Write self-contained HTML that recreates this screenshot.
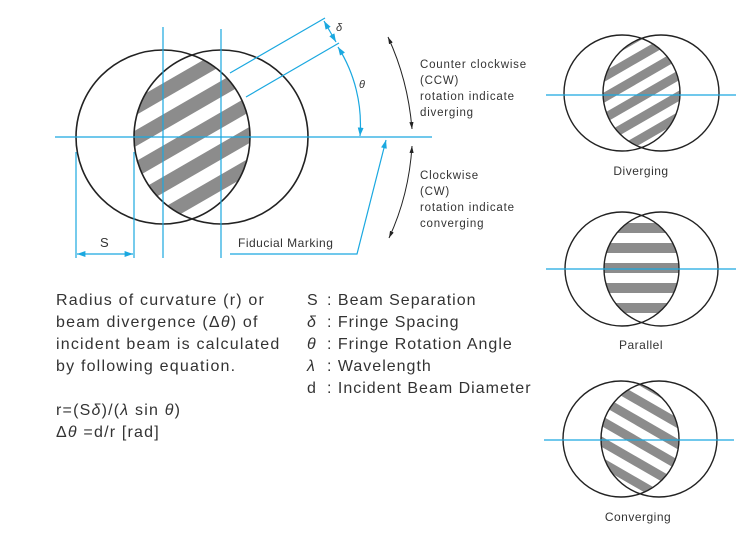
<!DOCTYPE html>
<html><head><meta charset="utf-8"><style>
html,body{margin:0;padding:0;background:#fff}
svg{display:block}
text{font-family:"Liberation Sans",sans-serif;fill:#333}
</style></head><body>
<svg width="749" height="545" viewBox="0 0 749 545" xmlns="http://www.w3.org/2000/svg">
<defs>
<marker id="ab" viewBox="0 0 10 10" refX="10" refY="5" markerWidth="7" markerHeight="7" orient="auto-start-reverse"><path d="M0,1.5 L10,5 L0,8.5 z" fill="#1aa8e0"/></marker>
<marker id="ak" viewBox="0 0 10 10" refX="10" refY="5" markerWidth="7" markerHeight="7" orient="auto-start-reverse"><path d="M0,2 L10,5 L0,8 z" fill="#222"/></marker>
<clipPath id="cA"><circle cx="163" cy="137" r="87"/></clipPath>
<clipPath id="cB"><circle cx="221" cy="137" r="87"/></clipPath>
<clipPath id="d1A"><circle cx="622" cy="93" r="58"/></clipPath>
<clipPath id="d1B"><circle cx="661" cy="93" r="58"/></clipPath>
<clipPath id="d2A"><circle cx="622" cy="269" r="57"/></clipPath>
<clipPath id="d2B"><circle cx="661" cy="269" r="57"/></clipPath>
<clipPath id="d3A"><circle cx="621" cy="439" r="58"/></clipPath>
<clipPath id="d3B"><circle cx="659" cy="439" r="58"/></clipPath>
</defs>

<g clip-path="url(#cA)"><g clip-path="url(#cB)">
<g transform="rotate(-30 192 137)" fill="#8c8c8c">
<rect x="60" y="-5" width="270" height="14"/>
<rect x="60" y="22" width="270" height="14"/>
<rect x="60" y="49" width="270" height="14"/>
<rect x="60" y="76" width="270" height="14"/>
<rect x="60" y="103" width="270" height="14"/>
<rect x="60" y="130" width="270" height="14"/>
<rect x="60" y="157" width="270" height="14"/>
<rect x="60" y="184" width="270" height="14"/>
<rect x="60" y="211" width="270" height="14"/>
<rect x="60" y="238" width="270" height="14"/>
<rect x="60" y="265" width="270" height="14"/>
</g></g></g>
<circle cx="163" cy="137" r="87" fill="none" stroke="#222" stroke-width="1.6"/>
<circle cx="221" cy="137" r="87" fill="none" stroke="#222" stroke-width="1.6"/>

<g stroke="#1aa8e0" stroke-width="1.2" fill="none">
<line x1="55" y1="137" x2="432" y2="137"/>
<line x1="163" y1="27" x2="163" y2="258"/>
<line x1="221" y1="29" x2="221" y2="258"/>
<line x1="76" y1="152" x2="76" y2="258"/>
<line x1="134" y1="152" x2="134" y2="258"/>
<line x1="77" y1="254" x2="133" y2="254" marker-start="url(#ab)" marker-end="url(#ab)"/>
<line x1="230" y1="73" x2="325" y2="18"/>
<line x1="246" y1="97" x2="339" y2="43"/>
<line x1="324" y1="21" x2="336" y2="42" marker-start="url(#ab)" marker-end="url(#ab)"/>
<path d="M338,47 A145,145 0 0 1 360,136" marker-start="url(#ab)" marker-end="url(#ab)"/>
<polyline points="230,254 357,254 386,140" marker-end="url(#ab)"/>
</g>
<g stroke="#222" stroke-width="1" fill="none">
<path d="M388,37 Q408,80 412,129" marker-start="url(#ak)" marker-end="url(#ak)"/>
<path d="M412,146 Q409,195 389,238" marker-start="url(#ak)" marker-end="url(#ak)"/>
</g>
<text x="336" y="31" font-size="11" font-style="italic">δ</text>
<text x="359" y="88" font-size="11" font-style="italic">θ</text>
<text x="100" y="247" font-size="13">S</text>
<text x="238" y="247" font-size="12" letter-spacing="0.5">Fiducial Marking</text>
<g font-size="11.5" letter-spacing="0.8">
<text x="420" y="68">Counter clockwise</text>
<text x="420" y="84">(CCW)</text>
<text x="420" y="100">rotation indicate</text>
<text x="420" y="116">diverging</text>
<text x="420" y="179">Clockwise</text>
<text x="420" y="195">(CW)</text>
<text x="420" y="211">rotation indicate</text>
<text x="420" y="227">converging</text>
</g>

<g font-size="16" letter-spacing="1.2">
<text x="56" y="305">Radius of curvature (r) or</text>
<text x="56" y="327">beam divergence (Δ<tspan font-style="italic">θ</tspan>) of</text>
<text x="56" y="349">incident beam is calculated</text>
<text x="56" y="371">by following equation.</text>
<text x="56" y="415">r=(S<tspan font-style="italic">δ</tspan>)/(<tspan font-style="italic">λ</tspan>  sin <tspan font-style="italic">θ</tspan>)</text>
<text x="56" y="437">Δ<tspan font-style="italic">θ</tspan> =d/r [rad]</text>
</g>
<g font-size="16" letter-spacing="1">
<text x="307" y="305">S<tspan x="327">: Beam Separation</tspan></text>
<text x="307" y="327"><tspan font-style="italic">δ</tspan><tspan x="327">: Fringe Spacing</tspan></text>
<text x="307" y="349"><tspan font-style="italic">θ</tspan><tspan x="327">: Fringe Rotation Angle</tspan></text>
<text x="307" y="371"><tspan font-style="italic">λ</tspan><tspan x="327">: Wavelength</tspan></text>
<text x="307" y="393">d<tspan x="327">: Incident Beam Diameter</tspan></text>
</g>

<g clip-path="url(#d1A)"><g clip-path="url(#d1B)">
<g transform="rotate(-30 641 93)" fill="#8c8c8c">
<rect x="560" y="2" width="170" height="9"/><rect x="560" y="20" width="170" height="9"/>
<rect x="560" y="38" width="170" height="9"/><rect x="560" y="56" width="170" height="9"/>
<rect x="560" y="74" width="170" height="9"/><rect x="560" y="92" width="170" height="9"/>
<rect x="560" y="110" width="170" height="9"/><rect x="560" y="128" width="170" height="9"/>
<rect x="560" y="146" width="170" height="9"/><rect x="560" y="164" width="170" height="9"/>
</g></g></g>
<circle cx="622" cy="93" r="58" fill="none" stroke="#222" stroke-width="1.4"/>
<circle cx="661" cy="93" r="58" fill="none" stroke="#222" stroke-width="1.4"/>
<line x1="546" y1="95" x2="736" y2="95" stroke="#1aa8e0" stroke-width="1.2"/>
<text x="641" y="175" font-size="12" text-anchor="middle" letter-spacing="0.5">Diverging</text>

<g clip-path="url(#d2A)"><g clip-path="url(#d2B)" fill="#8c8c8c">
<rect x="600" y="223" width="80" height="10"/><rect x="600" y="243" width="80" height="10"/>
<rect x="600" y="263" width="80" height="10"/><rect x="600" y="283" width="80" height="10"/>
<rect x="600" y="303" width="80" height="10"/>
</g></g>
<circle cx="622" cy="269" r="57" fill="none" stroke="#222" stroke-width="1.4"/>
<circle cx="661" cy="269" r="57" fill="none" stroke="#222" stroke-width="1.4"/>
<line x1="546" y1="269" x2="736" y2="269" stroke="#1aa8e0" stroke-width="1.2"/>
<text x="641" y="349" font-size="12" text-anchor="middle" letter-spacing="0.5">Parallel</text>

<g clip-path="url(#d3A)"><g clip-path="url(#d3B)">
<g transform="rotate(30 640 439)" fill="#8c8c8c">
<rect x="560" y="348" width="170" height="9"/><rect x="560" y="366" width="170" height="9"/>
<rect x="560" y="384" width="170" height="9"/><rect x="560" y="402" width="170" height="9"/>
<rect x="560" y="420" width="170" height="9"/><rect x="560" y="438" width="170" height="9"/>
<rect x="560" y="456" width="170" height="9"/><rect x="560" y="474" width="170" height="9"/>
<rect x="560" y="492" width="170" height="9"/><rect x="560" y="510" width="170" height="9"/>
</g></g></g>
<circle cx="621" cy="439" r="58" fill="none" stroke="#222" stroke-width="1.4"/>
<circle cx="659" cy="439" r="58" fill="none" stroke="#222" stroke-width="1.4"/>
<line x1="544" y1="440" x2="734" y2="440" stroke="#1aa8e0" stroke-width="1.2"/>
<text x="638" y="521" font-size="12" text-anchor="middle" letter-spacing="0.5">Converging</text>
</svg>
</body></html>
